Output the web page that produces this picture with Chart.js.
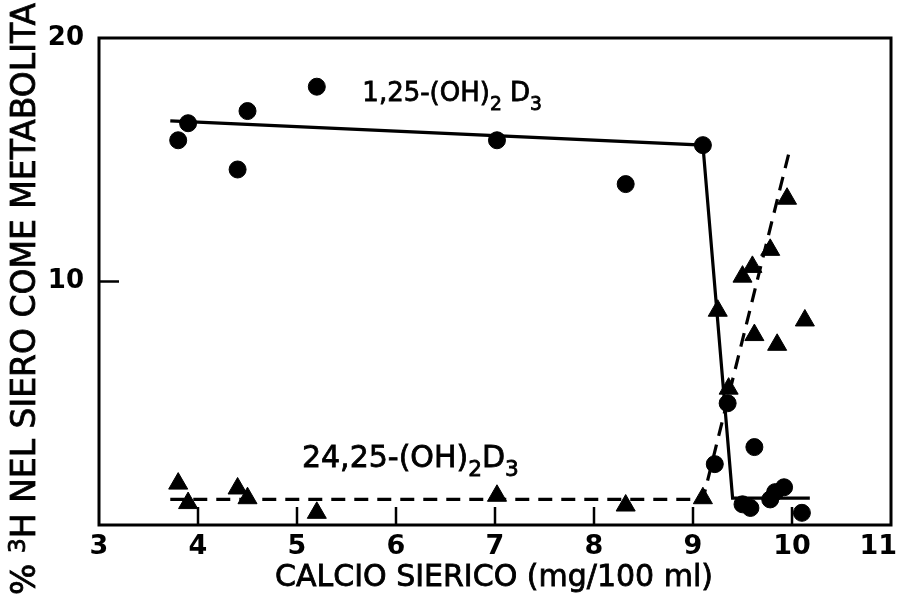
<!DOCTYPE html>
<html>
<head>
<meta charset="utf-8">
<script src="https://cdn.jsdelivr.net/npm/chart.js@4.4.1/dist/chart.umd.min.js"></script>
<style>
  html, body { margin: 0; padding: 0; background: #fff; }
  canvas { display: block; }
</style>
</head>
<body>
<canvas id="chart" width="898" height="601"></canvas>
<script>
// 1,25-(OH)2D3 (cerchi)
const circleX = [3.8, 3.9, 4.4, 4.5, 5.2, 7.02, 8.32, 9.1, 9.22, 9.35, 9.62, 9.5, 9.58, 9.78, 9.83, 9.92, 10.1];
const circleY = [15.8, 16.5, 14.6, 17.0, 18.0, 15.8, 14.0, 15.6, 2.5, 5.0, 3.2, 0.85, 0.7, 1.05, 1.35, 1.55, 0.5];
// 24,25-(OH)2D3 (triangoli)
const triX = [3.8, 3.9, 4.4, 4.5, 5.2, 7.02, 8.32, 9.1, 9.25, 9.36, 9.5, 9.6, 9.62, 9.78, 9.85, 9.95, 10.13];
const triY = [1.7, 0.9, 1.5, 1.1, 0.5, 1.2, 0.8, 1.1, 8.8, 5.6, 10.2, 10.6, 7.8, 11.3, 7.4, 13.4, 8.4];
// linee di tendenza
const solidX = [3.72, 9.1, 9.4, 10.18];
const solidY = [16.6, 15.6, 1.1, 1.1];
const dashX = [3.72, 9.1, 9.97];
const dashY = [1.05, 1.05, 15.3];
// assi
const xTicks = [3, 4, 5, 6, 7, 8, 9, 10, 11];
const yTicks = [10, 20];

const FONT = '"DejaVu Sans", "Liberation Sans", sans-serif';
const toPts = (xs, ys) => xs.map((x, i) => ({ x: x, y: ys[i] }));

// testo con pedici / apici, pezzi [testo, tipo]
function drawRich(ctx, parts, x, y, size) {
    let cx = x;
    parts.forEach(([txt, kind]) => {
        const s = kind ? size * 0.72 : size;
        ctx.font = s + 'px ' + FONT;
        let dy = 0;
        if (kind === 'sub') dy = size * 0.32;
        if (kind === 'sup') dy = -size * 0.22;
        ctx.fillText(txt, cx, y + dy);
        ctx.strokeText(txt, cx, y + dy);
        cx += ctx.measureText(txt).width;
    });
}
function richWidth(ctx, parts, size) {
    let w = 0;
    parts.forEach(([txt, kind]) => {
        const s = kind ? size * 0.72 : size;
        ctx.font = s + 'px ' + FONT;
        w += ctx.measureText(txt).width;
    });
    return w;
}

const decorPlugin = {
    id: 'decor',
    afterDraw(chart) {
        const ctx = chart.ctx;
        const a = chart.chartArea;
        const xs = chart.scales.x, ys = chart.scales.y;
        ctx.save();
        ctx.strokeStyle = '#000';
        ctx.fillStyle = '#000';
        ctx.lineWidth = 3;
        ctx.strokeRect(a.left, a.top, a.right - a.left, a.bottom - a.top);

        // tacche interne
        ctx.lineWidth = 2.5;
        xTicks.slice(1, -1).forEach(v => {
            const px = xs.getPixelForValue(v);
            ctx.beginPath(); ctx.moveTo(px, a.bottom); ctx.lineTo(px, a.bottom - 18); ctx.stroke();
        });
        const py = ys.getPixelForValue(10);
        ctx.beginPath(); ctx.moveTo(a.left, py); ctx.lineTo(a.left + 20, py); ctx.stroke();

        // etichette asse x
        ctx.font = 'bold 27px ' + FONT;
        ctx.textBaseline = 'middle';
        xTicks.forEach((v, i) => {
            const last = i === xTicks.length - 1;
            ctx.textAlign = last ? 'right' : 'center';
            const px = last ? chart.width - 1 : xs.getPixelForValue(v);
            ctx.fillText(String(v), px, 547);
        });

        // etichette delle serie
        ctx.lineWidth = 0.8;
        ctx.textBaseline = 'alphabetic';
        ctx.textAlign = 'left';
        drawRich(ctx, [['1,25-(OH)', ''], ['2', 'sub'], [' D', ''], ['3', 'sub']],
            xs.getPixelForValue(5.66), ys.getPixelForValue(17.4), 26);
        drawRich(ctx, [['24,25-(OH)', ''], ['2', 'sub'], ['D', ''], ['3', 'sub']],
            xs.getPixelForValue(5.05), ys.getPixelForValue(2.4), 30);

        // titolo asse x
        ctx.textBaseline = 'middle';
        const xParts = [['CALCIO SIERICO (mg/100 ml)', '']];
        const wx = richWidth(ctx, xParts, 30);
        drawRich(ctx, xParts, 494 - wx / 2, 578, 30);

        // titolo asse y
        const yParts = [['% ', ''], ['3', 'sup'], ['H NEL SIERO COME METABOLITA', '']];
        ctx.translate(26, 299);
        ctx.rotate(-Math.PI / 2);
        const w = richWidth(ctx, yParts, 33);
        drawRich(ctx, yParts, -w / 2, 0, 33);
        ctx.restore();
    }
};

const chart = new Chart(document.getElementById('chart'), {
    type: 'scatter',
    data: {
        datasets: [{
            label: 'solid',
            data: toPts(solidX, solidY),
            showLine: true,
            borderColor: '#000',
            borderWidth: 3.2,
            pointRadius: 0,
            fill: false
        }, {
            label: 'dash',
            data: toPts(dashX, dashY),
            showLine: true,
            borderColor: '#000',
            borderWidth: 3.2,
            borderDash: [14, 9],
            pointRadius: 0,
            fill: false
        }, {
            label: '1,25-(OH)2D3',
            data: toPts(circleX, circleY),
            pointStyle: 'circle',
            pointRadius: 8.5,
            backgroundColor: '#000',
            borderColor: '#000'
        }, {
            label: '24,25-(OH)2D3',
            data: toPts(triX, triY),
            pointStyle: 'triangle',
            pointRadius: 11,
            backgroundColor: '#000',
            borderColor: '#000'
        }]
    },
    options: {
        responsive: false,
        animation: false,
        layout: { autoPadding: false, padding: { top: 38, right: 7, left: 0, bottom: 0 } },
        plugins: {
            legend: { display: false },
            tooltip: { enabled: false }
        },
        scales: {
            x: {
                type: 'linear',
                min: 3,
                max: 11,
                afterBuildTicks: s => { s.ticks = xTicks.map(v => ({ value: v })); },
                ticks: { display: false },
                grid: { display: false },
                border: { display: false },
                afterFit: s => { s.height = 76; s.paddingLeft = 0; s.paddingRight = 0; }
            },
            y: {
                min: 0,
                max: 20,
                afterBuildTicks: s => { s.ticks = yTicks.map(v => ({ value: v })); },
                ticks: {
                    color: '#000',
                    padding: 7,
                    font: { family: FONT, size: 26, weight: 'bold' }
                },
                grid: { display: false },
                border: { display: false },
                afterFit: s => { s.width = 99; s.paddingTop = 0; s.paddingBottom = 0; }
            }
        }
    },
    plugins: [decorPlugin]
});
</script>
</body>
</html>
